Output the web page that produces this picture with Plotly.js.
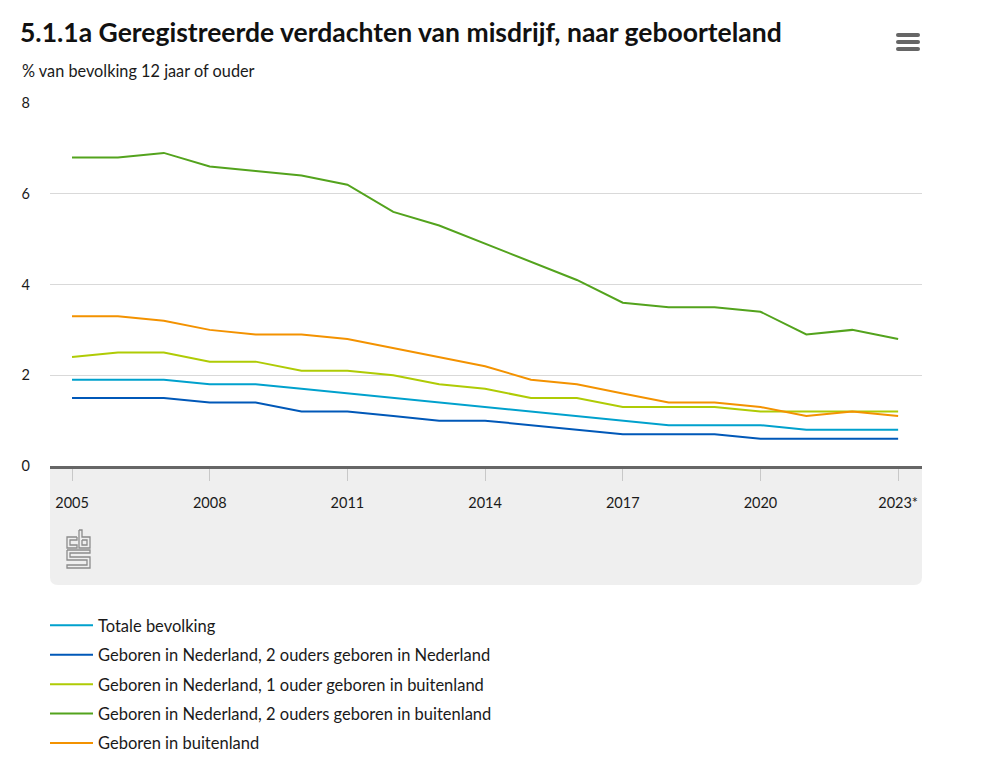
<!DOCTYPE html>
<html>
<head>
<meta charset="utf-8">
<script src="https://cdn.plot.ly/plotly-3.0.1.min.js"></script>
<style>
html,body{margin:0;padding:0;background:#fff;}
#chart{width:1000px;height:774px;}
</style>
</head>
<body>
<div id="chart"></div>
<script>
const years = [2005,2006,2007,2008,2009,2010,2011,2012,2013,2014,2015,2016,2017,2018,2019,2020,2021,2022,2023];
const tickYears = [2005,2008,2011,2014,2017,2020,2023];
const tickLabels = ["2005","2008","2011","2014","2017","2020","2023*"];

const totaleBevolking = [1.9,1.9,1.9,1.8,1.8,1.7,1.6,1.5,1.4,1.3,1.2,1.1,1.0,0.9,0.9,0.9,0.8,0.8,0.8];
const nl2OudersNl     = [1.5,1.5,1.5,1.4,1.4,1.2,1.2,1.1,1.0,1.0,0.9,0.8,0.7,0.7,0.7,0.6,0.6,0.6,0.6];
const nl1OuderBuiten  = [2.4,2.5,2.5,2.3,2.3,2.1,2.1,2.0,1.8,1.7,1.5,1.5,1.3,1.3,1.3,1.2,1.2,1.2,1.2];
const nl2OudersBuiten = [6.8,6.8,6.9,6.6,6.5,6.4,6.2,5.6,5.3,4.9,4.5,4.1,3.6,3.5,3.5,3.4,2.9,3.0,2.8];
const geborenBuiten   = [3.3,3.3,3.2,3.0,2.9,2.9,2.8,2.6,2.4,2.2,1.9,1.8,1.6,1.4,1.4,1.3,1.1,1.2,1.1];

const seriesNames = [
  "Totale bevolking",
  "Geboren in Nederland, 2 ouders geboren in Nederland",
  "Geboren in Nederland, 1 ouder geboren in buitenland",
  "Geboren in Nederland, 2 ouders geboren in buitenland",
  "Geboren in buitenland"
];
const seriesValues = [totaleBevolking, nl2OudersNl, nl1OuderBuiten, nl2OudersBuiten, geborenBuiten];
const seriesColors = ["#00a1cd","#0058b8","#afcb05","#53a31d","#f39200"];

const traces = seriesValues.map((v,i)=>({
  type:'scatter', mode:'lines', x:years, y:v, name:seriesNames[i],
  legendgroup:'g'+i,
  line:{color:seriesColors[i], width:2},
  hoverinfo:'x+y+name'
}));

// plot area: left 50, right 922, top 103, bottom 466
const L=50, B=466;
function px(x){return x-L;}
function py(y){return B-y;}
function pixShape(path, opts){
  return Object.assign({type:'path', xref:'paper', yref:'paper', xsizemode:'pixel', ysizemode:'pixel',
    xanchor:0, yanchor:0, path:path}, opts);
}
function P(pts){
  return pts.map((p,i)=>(i===0?'M':'L')+px(p[0])+','+py(p[1])).join(' ');
}

const shapes = [];
shapes.push(pixShape(
  `M0,0 L872,0 L872,${-111} Q872,-119 864,-119 L8,-119 Q0,-119 0,-111 Z`,
  {fillcolor:'#efefef', line:{width:0}, layer:'below'}));
[35,42,49].forEach(y=>{
  shapes.push(pixShape(
    `M${px(898)},${py(y-2)} L${px(918)},${py(y-2)} Q${px(920)},${py(y-2)} ${px(920)},${py(y)} Q${px(920)},${py(y+2)} ${px(918)},${py(y+2)} L${px(898)},${py(y+2)} Q${px(896)},${py(y+2)} ${px(896)},${py(y)} Q${px(896)},${py(y-2)} ${px(898)},${py(y-2)} Z`,
    {fillcolor:'#666', line:{width:0}}));
});
const logoLine = {color:'#8c8c8c', width:1.3};
shapes.push(pixShape(P([[77,537],[67,537],[67,548],[77,548],[77,545],[70,545],[70,540],[77,540],[77,537]]),{line:logoLine}));
shapes.push(pixShape(P([[79,530],[82,530],[82,537],[90,537],[90,548],[79,548],[79,530]]),{line:logoLine}));
shapes.push(pixShape(P([[82,540],[87,540],[87,545],[82,545],[82,540]]),{line:logoLine}));
shapes.push(pixShape(P([[67,550],[90,550],[90,553],[70,553],[70,557],[90,557],[90,568],[67,568],[67,565],[87,565],[87,560],[67,560],[67,550]]),{line:logoLine}));

const layout = {
  width:1000, height:774,
  paper_bgcolor:'#ffffff', plot_bgcolor:'rgba(0,0,0,0)',
  margin:{l:50, r:78, t:103, b:308},
  font:{family:'Lato, "Open Sans", sans-serif', color:'#1a1a1a', size:14},
  title:{text:'<b>5.1.1a Geregistreerde verdachten van misdrijf, naar geboorteland</b>',
    font:{family:'Lato, sans-serif', size:26.5, color:'#111'},
    xref:'container', yref:'container', x:0.02, xanchor:'left', y:1-33/774, yanchor:'middle'},
  annotations:[{text:'% van bevolking 12 jaar of ouder', xref:'paper', yref:'paper',
    x:(20-L)/872, xanchor:'left', y:(B-70)/363, yanchor:'middle', showarrow:false,
    font:{size:16.3, color:'#1a1a1a'}}],
  xaxis:{range:[2004.52,2023.52], tickvals:tickYears, ticktext:tickLabels,
    showgrid:false, zeroline:false, showline:true, linecolor:'#666', linewidth:3,
    ticks:'outside', ticklen:12, tickcolor:'#c8c8c8', tickwidth:1, ticklabelstandoff:10,
    tickfont:{size:14.5, color:'#1a1a1a'}, fixedrange:true},
  yaxis:{range:[0,8], tickvals:[0,2,4,6,8], showgrid:true, gridcolor:'#d9d9d9', gridwidth:1,
    zeroline:false, showline:false, ticks:'', ticklabelstandoff:19,
    tickfont:{size:14.5, color:'#1a1a1a'}, fixedrange:true},
  showlegend:true,
  legend:{orientation:'v', x:-5/872, xanchor:'left', y:(B-608)/363, yanchor:'top',
    font:{size:16.5, color:'#1a1a1a'}, itemwidth:43, tracegroupgap:5, bgcolor:'rgba(0,0,0,0)'},
  shapes:shapes
};

Plotly.newPlot('chart', traces, layout, {displayModeBar:false});
</script>
</body>
</html>
